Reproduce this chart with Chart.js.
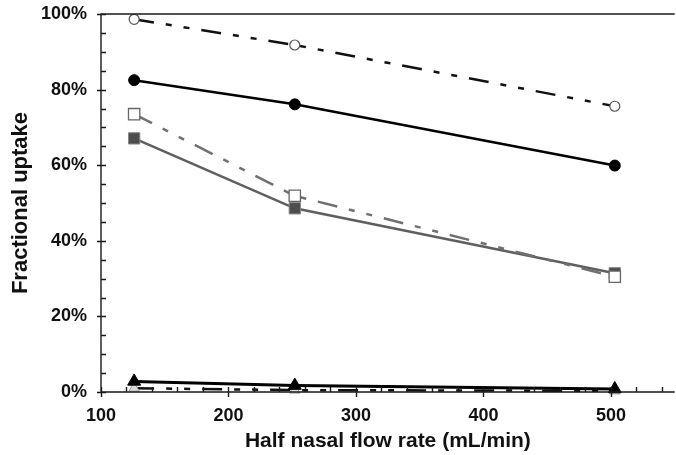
<!DOCTYPE html>
<html>
<head>
<meta charset="utf-8">
<script src="https://cdn.jsdelivr.net/npm/chart.js@4.4.1/dist/chart.umd.min.js"></script>
<style>
  html, body { margin: 0; padding: 0; background: #fff; overflow: hidden; }
  #wrap { width: 684px; height: 455px; }
</style>
</head>
<body>
<div id="wrap"><canvas id="uptakeChart"></canvas></div>
<script>
// values (x in mL/min, y in %)
const flowRate = [126, 252, 503];
const openCircle = [98.6, 91.8, 75.6];
const filledCircle = [82.5, 76.1, 59.9];
const openSquare = [73.5, 51.9, 30.5];
const filledSquare = [67.1, 48.6, 31.4];
const filledTriangle = [2.8, 1.7, 0.8];
const openTriangle = [1.0, 0.5, 0.3];

const xTicks = [100, 200, 300, 400, 500];
const yTicks = [0, 20, 40, 60, 80, 100];

function toPoints(values) {
    return flowRate.map((x, i) => ({ x: x, y: values[i] }));
}

const dashDotDot = [20, 12, 6, 12, 6, 12];

// hand drawn axis frame with inward minor ticks
const axisFrame = {
    id: 'axisFrame',
    afterDraw(chart) {
        const { ctx, chartArea, scales } = chart;
        const x = scales.x, y = scales.y;
        ctx.save();
        ctx.strokeStyle = '#1a1a1a';
        ctx.lineWidth = 1.4;
        ctx.beginPath();
        ctx.moveTo(chartArea.right, chartArea.top);
        ctx.lineTo(chartArea.left, chartArea.top);
        ctx.lineTo(chartArea.left, chartArea.bottom);
        ctx.lineTo(chartArea.right, chartArea.bottom);
        for (let v = 100; v <= 540; v += 20) {
            const px = Math.round(x.getPixelForValue(v)) + 0.5;
            const major = v % 100 === 0;
            ctx.moveTo(px, chartArea.bottom + (major ? 5 : 0));
            ctx.lineTo(px, chartArea.bottom - 5);
        }
        for (let v = 0; v <= 100; v += 5) {
            const py = Math.round(y.getPixelForValue(v)) + 0.5;
            const major = v % 20 === 0;
            ctx.moveTo(chartArea.left - (major ? 4 : 0), py);
            ctx.lineTo(chartArea.left + 5, py);
        }
        ctx.stroke();
        ctx.restore();
    }
};

const ctx = document.getElementById('uptakeChart').getContext('2d');
new Chart(ctx, {
    type: 'scatter',
    data: {
        datasets: [
            {
                label: 'filled triangle',
                data: toPoints(filledTriangle),
                showLine: true,
                borderColor: '#000',
                borderWidth: 3,
                pointStyle: 'triangle',
                pointRadius: 7.5,
                pointBackgroundColor: '#000',
                pointBorderColor: '#000',
                pointBorderWidth: 1,
                clip: false
            },
            {
                label: 'open triangle',
                data: toPoints(openTriangle),
                showLine: true,
                borderColor: '#111',
                borderWidth: 2.5,
                borderDash: dashDotDot,
                pointStyle: 'triangle',
                pointRadius: 6,
                pointBackgroundColor: '#ddd',
                pointBorderColor: '#999',
                pointBorderWidth: 1,
                clip: false
            },
            {
                label: 'open circle',
                data: toPoints(openCircle),
                showLine: true,
                borderColor: '#111',
                borderWidth: 2.5,
                borderDash: dashDotDot,
                pointStyle: 'circle',
                pointRadius: 5,
                pointBackgroundColor: '#fff',
                pointBorderColor: '#555',
                pointBorderWidth: 1.2,
                clip: false
            },
            {
                label: 'filled circle',
                data: toPoints(filledCircle),
                showLine: true,
                borderColor: '#000',
                borderWidth: 2.5,
                pointStyle: 'circle',
                pointRadius: 5.5,
                pointBackgroundColor: '#000',
                pointBorderColor: '#000',
                pointBorderWidth: 1,
                clip: false
            },
            {
                label: 'open square',
                data: toPoints(openSquare),
                showLine: true,
                borderColor: '#707070',
                borderWidth: 2.5,
                borderDash: dashDotDot,
                pointStyle: 'rect',
                pointRadius: 8,
                pointBackgroundColor: '#fff',
                pointBorderColor: '#666',
                pointBorderWidth: 1.3,
                clip: false
            },
            {
                label: 'filled square',
                data: toPoints(filledSquare),
                showLine: true,
                borderColor: '#5f5f5f',
                borderWidth: 2.5,
                pointStyle: 'rect',
                pointRadius: 8,
                pointBackgroundColor: '#4d4d4d',
                pointBorderColor: '#888',
                pointBorderWidth: 1,
                clip: false
            }
        ]
    },
    options: {
        responsive: true,
        maintainAspectRatio: false,
        animation: false,
        layout: { padding: { top: 14, right: 0, left: 0, bottom: 0 } },
        plugins: {
            legend: { display: false },
            tooltip: { enabled: false }
        },
        scales: {
            x: {
                type: 'linear',
                min: 100,
                max: 550,
                afterBuildTicks: scale => {
                    scale.ticks = xTicks.map(v => ({ value: v }));
                },
                afterFit: scale => {
                    scale.height = 63;
                    scale.paddingLeft = 0;
                    scale.paddingRight = 0;
                },
                grid: { display: false },
                border: { display: false },
                ticks: {
                    autoSkip: false,
                    maxRotation: 0,
                    padding: 5,
                    color: '#111',
                    font: { family: 'Liberation Sans', size: 18, weight: 'bold' }
                },
                title: {
                    display: true,
                    text: 'Half nasal flow rate (mL/min)',
                    color: '#111',
                    padding: { top: 0, bottom: 1 },
                    font: { family: 'Liberation Sans', size: 21, weight: 'bold' }
                }
            },
            y: {
                min: 0,
                max: 100,
                afterBuildTicks: scale => {
                    scale.ticks = yTicks.map(v => ({ value: v }));
                },
                afterFit: scale => {
                    scale.width = 101;
                    scale.paddingTop = 0;
                    scale.paddingBottom = 0;
                },
                grid: { display: false },
                border: { display: false },
                ticks: {
                    autoSkip: false,
                    padding: 6,
                    color: '#111',
                    font: { family: 'Liberation Sans', size: 18, weight: 'bold' },
                    callback: value => value + '%'
                },
                title: {
                    display: true,
                    text: 'Fractional uptake',
                    color: '#111',
                    padding: { top: 8, bottom: 0 },
                    font: { family: 'Liberation Sans', size: 22, weight: 'bold' }
                }
            }
        }
    },
    plugins: [axisFrame]
});
</script>
</body>
</html>
